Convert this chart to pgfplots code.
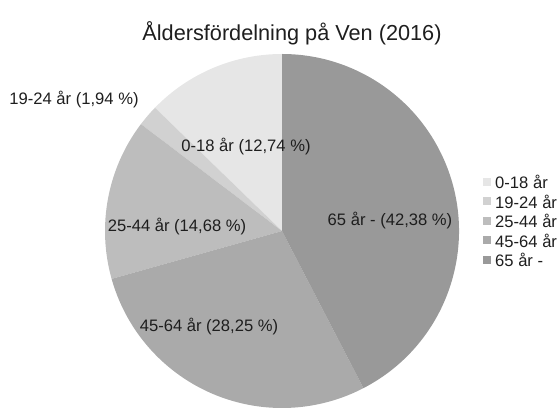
\documentclass[border=0pt]{standalone}
\usepackage{pgfplots}
\usepackage{pgfplotstable}
\pgfplotsset{compat=1.18}
\usepackage{fontspec}
\setmainfont{Liberation Sans}

\definecolor{c1}{HTML}{E6E6E6}
\definecolor{c2}{HTML}{D1D1D1}
\definecolor{c3}{HTML}{BDBDBD}
\definecolor{c4}{HTML}{AAAAAA}
\definecolor{c5}{HTML}{999999}
\definecolor{txt}{HTML}{1E1E1E}

\newcommand\lblfont{\fontsize{16.6bp}{19bp}\selectfont}
\newcommand\ttlfont{\fontsize{21.7bp}{25bp}\selectfont}

% age group; share in %; colour; label centre (px from lower left)
\pgfplotstableread[col sep=semicolon]{
label;pct;col;lx;ly
0-18 år;12.74;c1;246;265
19-24 år;1.94;c2;74;312
25-44 år;14.68;c3;177;185
45-64 år;28.25;c4;209;85
65 år -;42.38;c5;390;191
}\agedata

\begin{document}
\begin{tikzpicture}
\begin{axis}[
    scale only axis,
    width=558bp, height=412bp,
    xmin=0, xmax=558, ymin=0, ymax=412,
    hide axis, clip=false,
    /pgf/number format/.cd, use comma, fixed, fixed zerofill, precision=2,
    assume math mode=true,
]
\node[txt, font=\ttlfont] at (axis cs:292,379) {Åldersfördelning på Ven (2016)};

\def\start{90}
\pgfplotsinvokeforeach{0,...,4}{
    \pgfplotstablegetelem{#1}{pct}\of\agedata \let\p\pgfplotsretval
    \pgfplotstablegetelem{#1}{col}\of\agedata \let\c\pgfplotsretval
    \pgfplotstablegetelem{#1}{label}\of\agedata \let\lab\pgfplotsretval
    \pgfplotstablegetelem{#1}{lx}\of\agedata \let\lx\pgfplotsretval
    \pgfplotstablegetelem{#1}{ly}\of\agedata \let\ly\pgfplotsretval
    \pgfmathsetmacro\stop{\start+3.6*\p}
    \pgfmathsetmacro\legy{230-19.5*#1}
    \pgfmathsetmacro\ya{\legy-4}
    \pgfmathsetmacro\yb{\legy+4}
    \edef\tmp{
        \noexpand\fill[\c] (axis cs:282,181) -- ++(\start:177bp)
            arc[start angle=\start, end angle=\stop, radius=177bp] -- cycle;
        \noexpand\fill[\c] (axis cs:483,\ya) rectangle (axis cs:491,\yb);
        \noexpand\node[txt, anchor=west, inner sep=0pt, font=\noexpand\lblfont]
            at (axis cs:495,\legy) {\lab};
    }
    \tmp
    \xdef\start{\stop}
}
% slice labels on top of all slices
\pgfplotsinvokeforeach{0,...,4}{
    \pgfplotstablegetelem{#1}{pct}\of\agedata \let\p\pgfplotsretval
    \pgfplotstablegetelem{#1}{label}\of\agedata \let\lab\pgfplotsretval
    \pgfplotstablegetelem{#1}{lx}\of\agedata \let\lx\pgfplotsretval
    \pgfplotstablegetelem{#1}{ly}\of\agedata \let\ly\pgfplotsretval
    \edef\tmp{
        \noexpand\node[txt, inner sep=0pt, font=\noexpand\lblfont] at (axis cs:\lx,\ly)
            {\lab{} (\noexpand\pgfmathprintnumber{\p} \noexpand\%)};
    }
    \tmp
}
\end{axis}
\pgfresetboundingbox
\path (0,0) rectangle (558bp,412bp);
\end{tikzpicture}
\end{document}
